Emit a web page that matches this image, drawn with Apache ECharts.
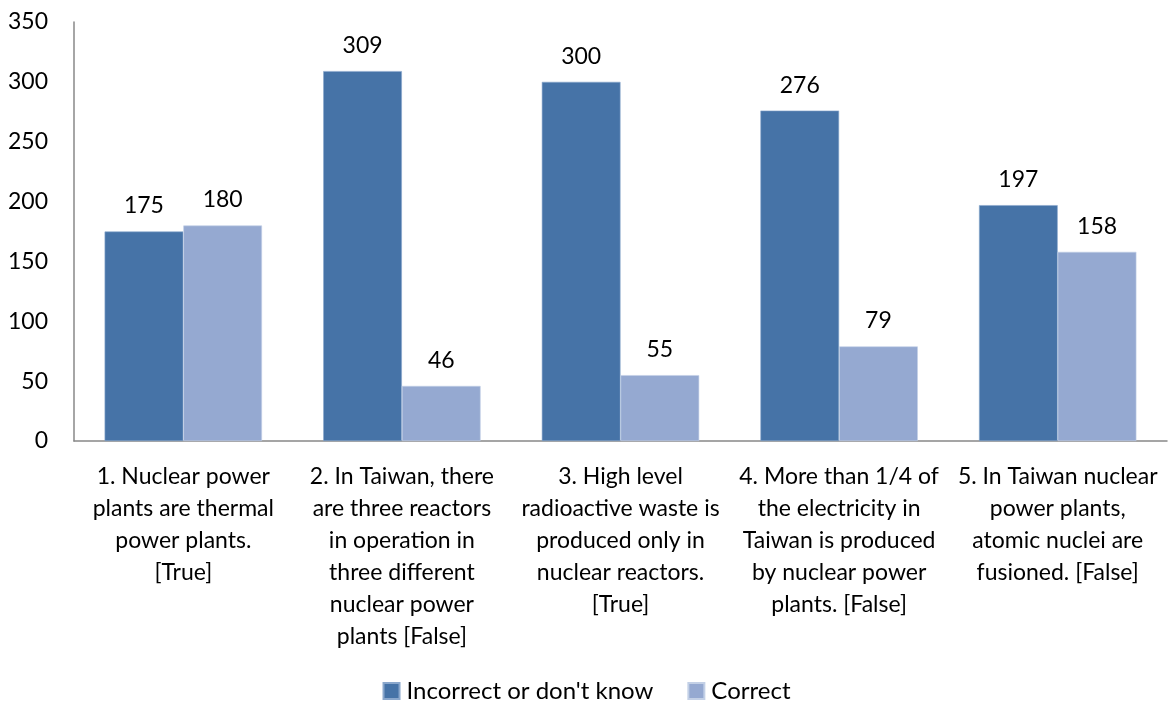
<!DOCTYPE html>
<html><head><meta charset="utf-8">
<script src="https://cdn.jsdelivr.net/npm/echarts@6/dist/echarts.min.js"></script>
<style>html,body{margin:0;padding:0;background:#fff}#c{width:1173px;height:706px}</style>
</head><body><div id="c"></div>
<script>
const categories = [
  "1. Nuclear power\nplants are thermal\npower plants.\n[True]",
  "2. In Taiwan, there\nare three reactors\nin operation in\nthree different\nnuclear power\nplants [False]",
  "3. High level\nradioactive waste is\nproduced only in\nnuclear reactors.\n[True]",
  "4. More than 1/4 of\nthe electricity in\nTaiwan is produced\nby nuclear power\nplants. [False]",
  "5. In Taiwan nuclear\npower plants,\natomic nuclei are\nfusioned. [False]"
];
const incorrect = [175, 309, 300, 276, 197];
const correct = [180, 46, 55, 79, 158];
const seriesNames = ["Incorrect or don't know", "Correct"];

const font = "Lato, 'Open Sans', sans-serif";
const chart = echarts.init(document.getElementById('c'), null, {renderer: 'canvas'});
const lbl = {show: true, position: 'top', distance: 14, color: '#000', fontSize: 23, fontFamily: font};
chart.setOption({
  animation: false,
  grid: {left: 74, right: 6, top: 22, bottom: 265},
  legend: {
    bottom: -2, left: 'center', itemWidth: 16, itemHeight: 16, itemGap: 34,
    icon: 'rect',
    textStyle: {fontSize: 24, fontFamily: font, color: '#000', padding: [0, 0, 0, 2]},
    data: seriesNames
  },
  xAxis: {
    type: 'category', data: categories,
    axisLine: {lineStyle: {color: '#888', width: 1.5}},
    axisTick: {show: false},
    axisLabel: {interval: 0, margin: 20, fontSize: 23, lineHeight: 32, fontFamily: font, color: '#000'}
  },
  yAxis: {
    type: 'value', min: 0, max: 350, interval: 50,
    axisLine: {show: true, lineStyle: {color: '#888', width: 1.5}},
    axisTick: {show: false},
    splitLine: {show: false},
    axisLabel: {margin: 26, fontSize: 23, fontFamily: font, color: '#000'}
  },
  series: [
    {name: seriesNames[0], type: 'bar', data: incorrect, barWidth: '36%', barGap: '0%',
     itemStyle: {color: '#4673A7', borderColor: '#8aa7cc', borderWidth: 0.6}, label: lbl},
    {name: seriesNames[1], type: 'bar', data: correct, barWidth: '36%',
     itemStyle: {color: '#95A9D1', borderColor: '#c3d0e6', borderWidth: 0.6}, label: lbl}
  ]
});
</script></body></html>
